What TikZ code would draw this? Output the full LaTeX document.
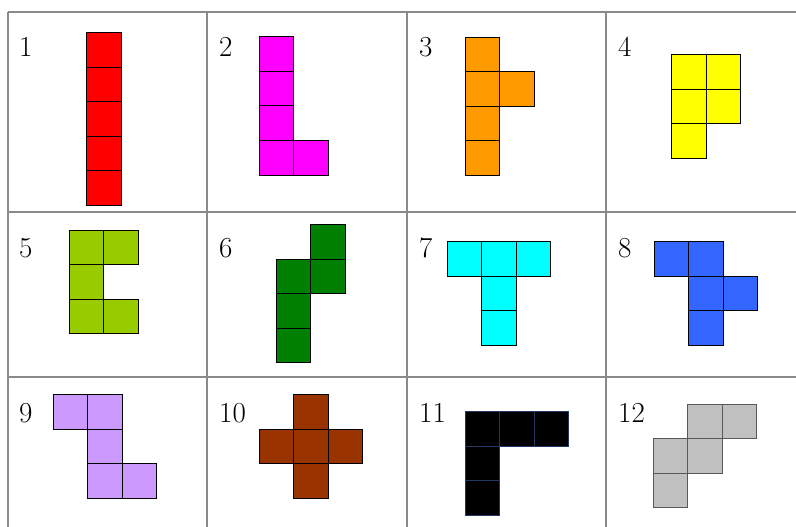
\documentclass[tikz,border=0pt]{standalone}
\usepackage{xcolor}
\usepackage{tikz}
\definecolor{pRed}{HTML}{FF0000}
\definecolor{pMagenta}{HTML}{FF00FF}
\definecolor{pOrange}{HTML}{FF9900}
\definecolor{pYellow}{HTML}{FFFF00}
\definecolor{pLime}{HTML}{99CC00}
\definecolor{pGreen}{HTML}{008000}
\definecolor{pCyan}{HTML}{00FFFF}
\definecolor{pBlue}{HTML}{3366FF}
\definecolor{pLilac}{HTML}{CC99FF}
\definecolor{pBrown}{HTML}{993300}
\definecolor{pSilver}{HTML}{C0C0C0}
\definecolor{pNavy}{HTML}{1F3864}
\definecolor{gridline}{HTML}{8A8A8A}
\tikzset{
  cell/.style={draw=black, line width=1pt},
  grid/.style={draw=gridline, line width=1.6pt},
  num/.style={anchor=west, inner sep=0pt, font=\fontsize{29}{30}\selectfont}
}

\begin{document}
\begin{tikzpicture}[x=1pt, y=-1pt]
  \useasboundingbox (0,0) rectangle (796,527);
  \def\u{34.5}

  % Table lines
  \draw[grid] (8,12) -- (796,12);
  \draw[grid] (8,212) -- (796,212);
  \draw[grid] (8,377) -- (796,377);
  \foreach \x in {8,207,407,606}
    \draw[grid] (\x,12) -- (\x,527);

  % Numbers
  \foreach \n/\x/\y in {1/19/47, 2/219/47, 3/419/47, 4/618/47,
                        5/19/248, 6/219/248, 7/419/248, 8/618/248,
                        9/19/413, 10/219/413, 11/419/413, 12/618/413}
    \node[num] (lab\n) at (\x,\y) {\n};

  % Piece 1
  \begin{scope}[shift={(86.7,32.7)}]
    \foreach \c/\r in {0/0, 0/1, 0/2, 0/3, 0/4}
      \draw[cell, fill=pRed] (\c*\u,\r*\u) rectangle ++(\u,\u);
  \end{scope}
  % Piece 2
  \begin{scope}[shift={(259,37)}]
    \foreach \c/\r in {0/0, 0/1, 0/2, 0/3, 1/3}
      \draw[cell, fill=pMagenta] (\c*\u,\r*\u) rectangle ++(\u,\u);
  \end{scope}
  % Piece 3
  \begin{scope}[shift={(465,37.3)}]
    \foreach \c/\r in {0/0, 0/1, 1/1, 0/2, 0/3}
      \draw[cell, fill=pOrange] (\c*\u,\r*\u) rectangle ++(\u,\u);
  \end{scope}
  % Piece 4
  \begin{scope}[shift={(671.7,54.7)}]
    \foreach \c/\r in {0/0, 1/0, 0/1, 1/1, 0/2}
      \draw[cell, fill=pYellow] (\c*\u,\r*\u) rectangle ++(\u,\u);
  \end{scope}
  % Piece 5
  \begin{scope}[shift={(69.3,230)}]
    \foreach \c/\r in {0/0, 1/0, 0/1, 0/2, 1/2}
      \draw[cell, fill=pLime] (\c*\u,\r*\u) rectangle ++(\u,\u);
  \end{scope}
  % Piece 6
  \begin{scope}[shift={(276.3,224.7)}]
    \foreach \c/\r in {1/0, 1/1, 0/1, 0/2, 0/3}
      \draw[cell, fill=pGreen] (\c*\u,\r*\u) rectangle ++(\u,\u);
  \end{scope}
  % Piece 7
  \begin{scope}[shift={(447.3,241.7)}]
    \foreach \c/\r in {0/0, 1/0, 2/0, 1/1, 1/2}
      \draw[cell, fill=pCyan] (\c*\u,\r*\u) rectangle ++(\u,\u);
  \end{scope}
  % Piece 8
  \begin{scope}[shift={(654.3,241.7)}]
    \foreach \c/\r in {0/0, 1/0, 1/1, 2/1, 1/2}
      \draw[cell, fill=pBlue] (\c*\u,\r*\u) rectangle ++(\u,\u);
  \end{scope}
  % Piece 9
  \begin{scope}[shift={(53,394.7)}]
    \foreach \c/\r in {0/0, 1/0, 1/1, 1/2, 2/2}
      \draw[cell, fill=pLilac] (\c*\u,\r*\u) rectangle ++(\u,\u);
  \end{scope}
  % Piece 10
  \begin{scope}[shift={(259.3,394.7)}]
    \foreach \c/\r in {1/0, 0/1, 1/1, 2/1, 1/2}
      \draw[cell, fill=pBrown] (\c*\u,\r*\u) rectangle ++(\u,\u);
  \end{scope}
  % Piece 11
  \begin{scope}[shift={(465.3,411.7)}]
    \foreach \c/\r in {0/0, 1/0, 2/0, 0/1, 0/2}
      \draw[cell, draw=pNavy, fill=black] (\c*\u,\r*\u) rectangle ++(\u,\u);
  \end{scope}
  % Piece 12
  \begin{scope}[shift={(653.3,404)}]
    \foreach \c/\r in {1/0, 2/0, 0/1, 1/1, 0/2}
      \draw[cell, draw=black!65, fill=pSilver] (\c*\u,\r*\u) rectangle ++(\u,\u);
  \end{scope}
\end{tikzpicture}
\end{document}
